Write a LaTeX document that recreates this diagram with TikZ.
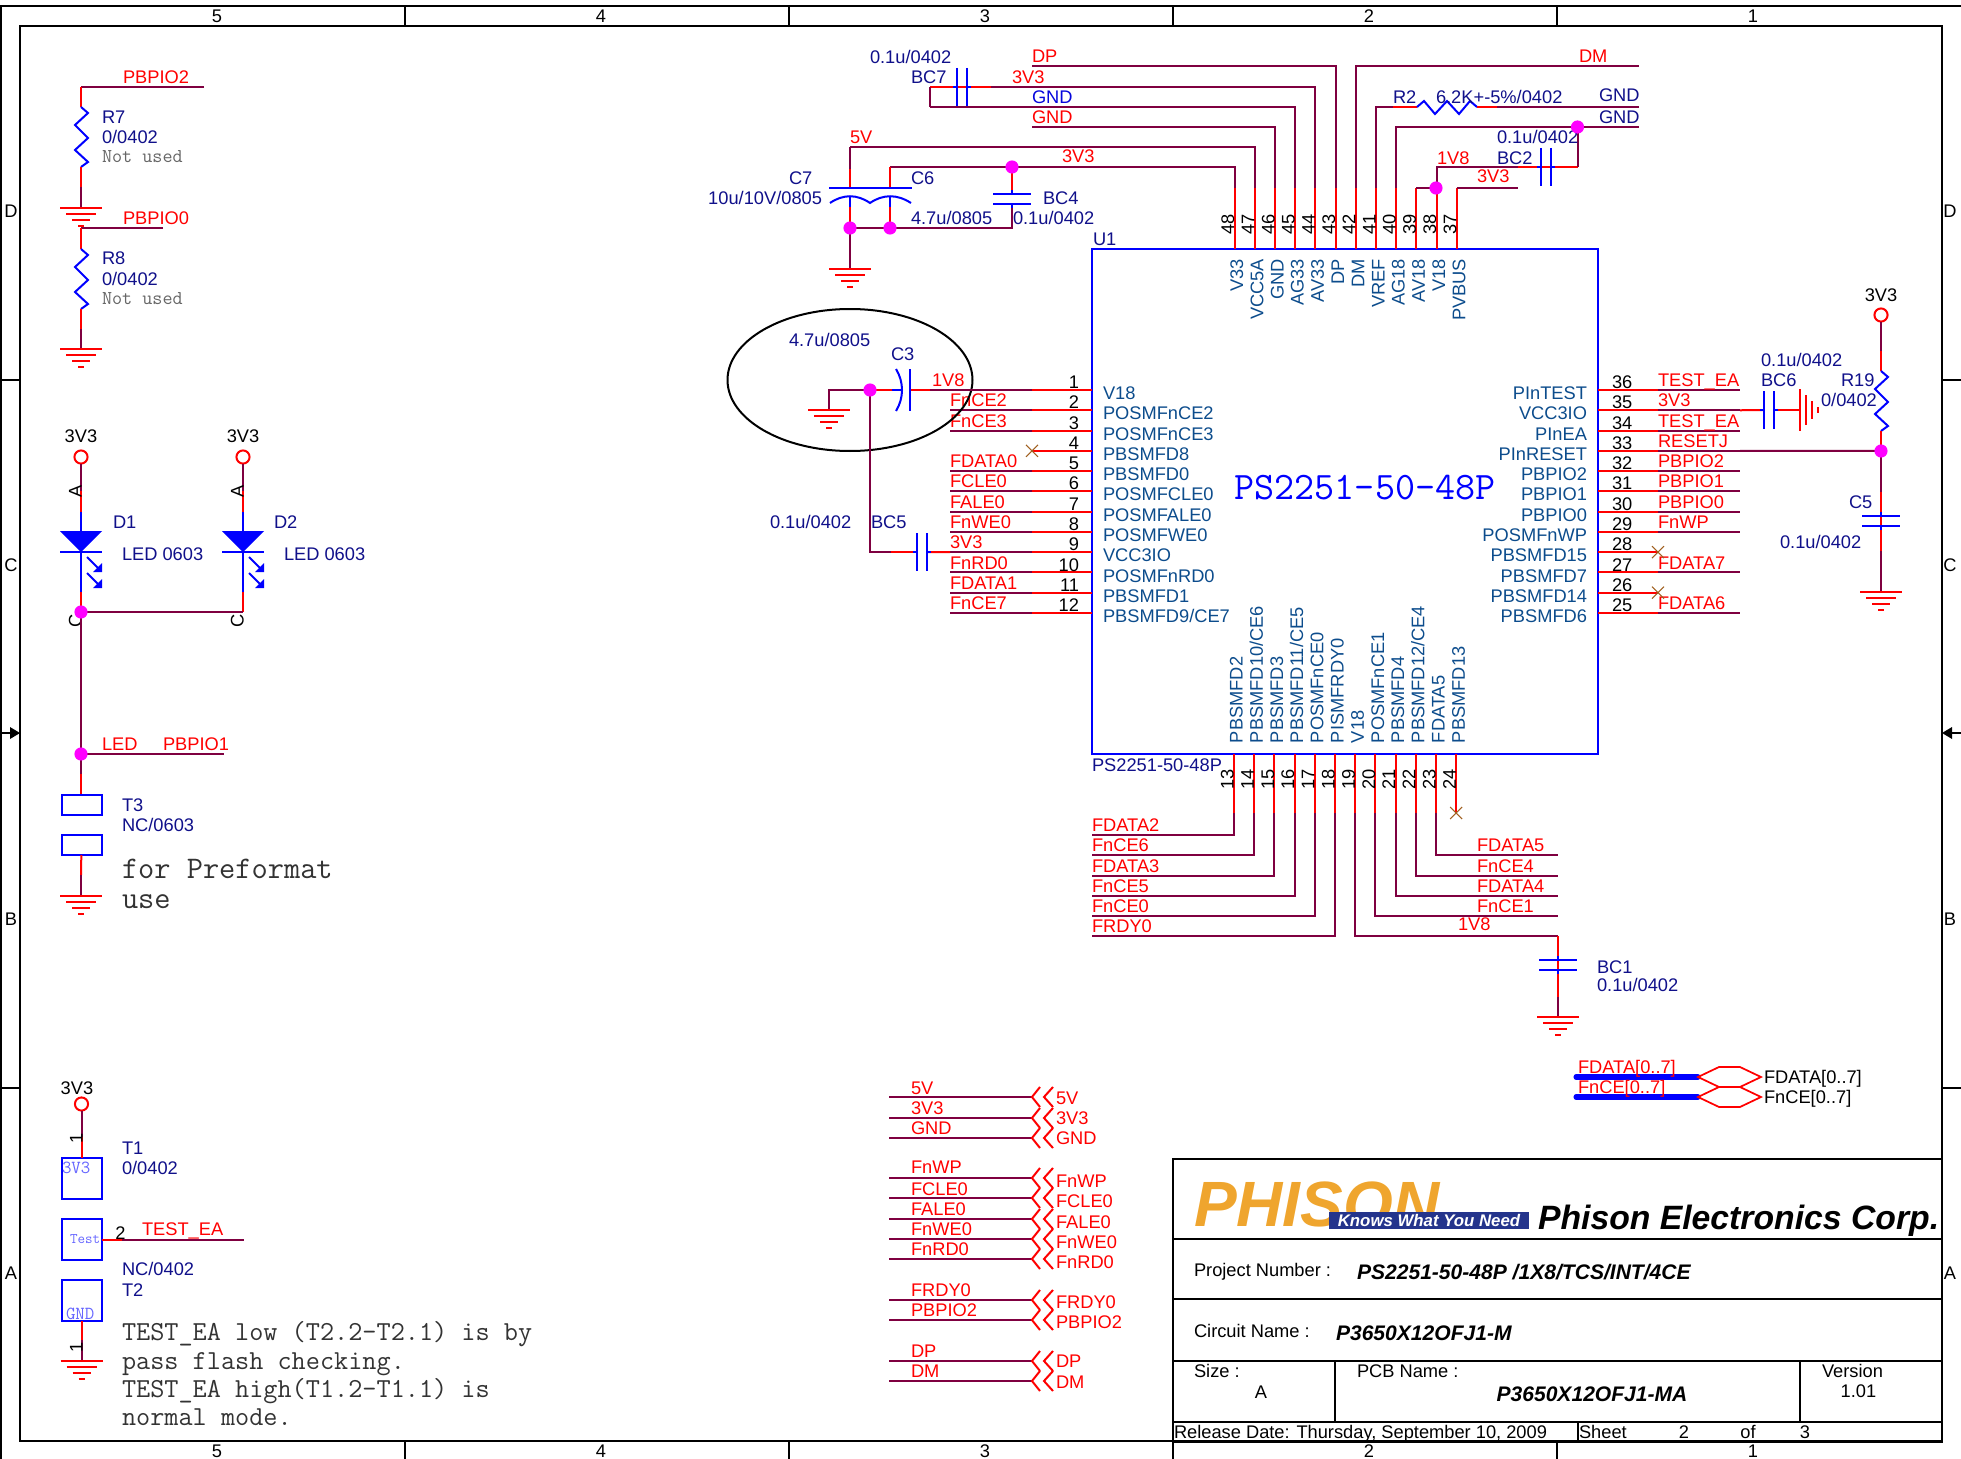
\documentclass[tikz,border=0pt]{standalone}
\usepackage{fontspec}
\setmainfont{Liberation Sans}
\definecolor{wirecol}{HTML}{7F0040}
\definecolor{navylbl}{HTML}{10108A}
\definecolor{pincol}{HTML}{0C4C8C}
\definecolor{nccol}{HTML}{A06020}
\definecolor{logocol}{HTML}{EFA52E}
\definecolor{bandcol}{HTML}{24348C}
\definecolor{dotcol}{HTML}{FF00FF}
\tikzset{
  every node/.style={inner sep=0pt,outer sep=0pt,text height=9.9pt,text depth=0pt,font=\fontsize{13.7}{15}\selectfont},
  every pic/.style={yscale=-1},
  wire/.style={draw=wirecol,line width=1.5pt},
  pinred/.style={draw=red,line width=1.5pt},
  part/.style={draw=blue,line width=1.5pt},
  frameline/.style={draw=black,line width=1.5pt},
  titleline/.style={draw=black,line width=2.2pt},
  netlbl/.style={text=red,anchor=west},
  partlbl/.style={text=navylbl,anchor=west},
  pinname/.style={text=pincol},
  pinnum/.style={text=black},
  plainlbl/.style={text=black,anchor=west},
  dot/.style={circle,fill=dotcol,minimum size=7pt},
  ring/.style={circle,draw=red,line width=1.5pt,fill=white,minimum size=9pt},
  pad/.style={draw=blue,line width=1.5pt,rectangle,minimum width=30pt,minimum height=15pt},
  note/.style={text=black!80,anchor=west,text height=12.6pt,font=\ttfamily\fontsize{20.6}{22}\selectfont},
  bignote/.style={note,text height=14.4pt,font=\ttfamily\fontsize{23.6}{25}\selectfont},
  smallnote/.style={anchor=west,text=black!60,text height=9pt,font=\ttfamily\fontsize{14.7}{16}\selectfont},
  padtxt/.style={anchor=west,text=blue!60,text height=8.4pt,font=\ttfamily\fontsize{13.8}{15}\selectfont},
  titleval/.style={text height=11.4pt,font=\fontsize{15.8}{18}\selectfont\bfseries\itshape},
  gndsym/.pic={\draw[pinred] (-21,0) -- (21,0) (-15,6) -- (15,6) (-9,12) -- (9,12) (-3,18) -- (3,18);},
  resv/.pic={\draw[part] (0,0) -- (7,6) -- (-6,18) -- (7,31) -- (-6,43) -- (7,55) -- (0,60);},
  resh/.pic={\draw[part] (0,0) -- (7,-6) -- (18,7) -- (30,-6) -- (42,7) -- (53,-6) -- (60,0);},
  capv/.pic={\draw[part] (-19,-5) -- (19,-5) (-19,5) -- (19,5) (0,-9) -- (0,-5) (0,5) -- (0,9);},
  caph/.pic={\draw[part] (-5,-19) -- (-5,19) (5,-19) -- (5,19) (-9,0) -- (-5,0) (5,0) -- (9,0);},
  ncmark/.pic={\draw[draw=nccol,line width=.8pt] (-6,-6) -- (6,6) (-6,6) -- (6,-6);},
  chev/.pic={\draw[pinred] (8,-10) -- (0,0) -- (8,10) (21,-10) -- (12,0) -- (21,10);},
  ledsym/.pic={
    \fill[blue] (-21,0) -- (21,0) -- (0,21) -- cycle;
    \draw[part] (0,-19) -- (0,61) (-21,21) -- (21,21);
    \draw[part] (6,26) -- (19,39) (6,42) -- (19,55);
    \fill[blue] (21,41) -- (21,32) -- (12,41) -- cycle (21,57) -- (21,48) -- (12,57) -- cycle;}
}
\begin{document}
\begin{tikzpicture}[x=0.75pt,y=0.75pt,yscale=-1,xscale=1]
\useasboundingbox (0,0) rectangle (1961,1459);

%Sheet frame
\draw[frameline] (1,1459) -- (1,6) -- (1961,6);
\draw[frameline] (20,26) rectangle (1942,1441);
\foreach \px in {405,789,1173,1557} {
  \draw[frameline] (\px,6) -- (\px,26);
  \draw[frameline] (\px,1441) -- (\px,1459);
}
\foreach \py in {380,1088} {
  \draw[frameline] (1,\py) -- (20,\py);
  \draw[frameline] (1942,\py) -- (1961,\py);
}
\draw[frameline] (1,733) -- (12,733);
\draw[frameline] (1961,733) -- (1950,733);
\fill[black] (10,727) -- (20,733) -- (10,739) -- cycle;
\fill[black] (1952,727) -- (1942,733) -- (1952,739) -- cycle;
\foreach \nm/\px in {5/217,4/601,3/985,2/1369,1/1753} {
  \node[pinnum] (colT\nm) at (\px,16) {\nm};
  \node[pinnum] (colB\nm) at (\px,1451) {\nm};
}
\foreach \nm/\py in {D/211,C/565,B/919,A/1273} {
  \node[pinnum] (rowL\nm) at (11,\py) {\nm};
  \node[pinnum] (rowR\nm) at (1950,\py) {\nm};
}

%U1 body
\node[draw=blue,line width=1.5pt,minimum width=379.5pt,minimum height=378.75pt,anchor=north west] (U1) at (1092,249) {};
\node[text=blue,text height=17.6pt,font=\ttfamily\fontsize{29.2}{31}\selectfont] (U1type) at (1365,488) {PS2251-50-48P};
\node[partlbl] (U1ref) at (1093,239) {U1};
\node[partlbl] (U1val) at (1092,765) {PS2251-50-48P};

%Left pins
\foreach \pn/\nm [evaluate=\pn as \py using 390+(\pn-1)*20.27] in {1/V18,2/POSMFnCE2,3/POSMFnCE3,4/PBSMFD8,5/PBSMFD0,6/POSMFCLE0,7/POSMFALE0,8/POSMFWE0,9/VCC3IO,10/POSMFnRD0,11/PBSMFD1,12/PBSMFD9\slash CE7} {
  \coordinate (pL\pn) at (1092,\py);
  \coordinate (wL\pn) at (1032,\py);
  \coordinate (eL\pn) at (950,\py);
  \draw[pinred] (pL\pn) -- (wL\pn);
  \node[pinnum,anchor=east] (numL\pn) at (1079,\py-8) {\pn};
  \node[pinname,anchor=west] (nameL\pn) at (1103,\py+3) {\nm};
}
\foreach \pn/\nm in {2/FnCE2,3/FnCE3,5/FDATA0,6/FCLE0,7/FALE0,8/FnWE0,9/3V3,10/FnRD0,11/FDATA1,12/FnCE7} {
  \draw[wire] (wL\pn) -- (eL\pn);
  \node[netlbl] (netL\pn) at ([yshift=-7.5pt]eL\pn) {\nm};
}
\pic at (wL4) {ncmark};

%Right pins
\foreach \pn/\nm [evaluate=\pn as \py using 390+(36-\pn)*20.27] in {36/PInTEST,35/VCC3IO,34/PInEA,33/PInRESET,32/PBPIO2,31/PBPIO1,30/PBPIO0,29/POSMFnWP,28/PBSMFD15,27/PBSMFD7,26/PBSMFD14,25/PBSMFD6} {
  \coordinate (pR\pn) at (1598,\py);
  \coordinate (wR\pn) at (1658,\py);
  \coordinate (eR\pn) at (1740,\py);
  \draw[pinred] (pR\pn) -- (wR\pn);
  \node[pinnum,anchor=west] (numR\pn) at (1612,\py-8) {\pn};
  \node[pinname,anchor=east] (nameR\pn) at (1587,\py+3) {\nm};
}
\foreach \pn/\nm in {36/TEST\_EA,35/3V3,34/TEST\_EA,33/RESETJ,32/PBPIO2,31/PBPIO1,30/PBPIO0,29/FnWP,27/FDATA7,25/FDATA6} {
  \draw[wire] (wR\pn) -- (eR\pn);
  \node[netlbl] (netR\pn) at ([yshift=-7.5pt]wR\pn) {\nm};
}
\pic at (wR28) {ncmark};
\pic at (wR26) {ncmark};

%Top pins
\foreach \pn/\nm [evaluate=\pn as \px using 1234.5+(48-\pn)*20.2] in {48/V33,47/VCC5A,46/GND,45/AG33,44/AV33,43/DP,42/DM,41/VREF,40/AG18,39/AV18,38/V18,37/PVBUS} {
  \coordinate (pT\pn) at (\px,249);
  \coordinate (wT\pn) at (\px,188);
  \draw[pinred] (pT\pn) -- (wT\pn);
  \node[pinnum,rotate=90] (numT\pn) at (\px-7,224) {\pn};
  \node[pinname,rotate=90,anchor=east] (nameT\pn) at (\px+2,259) {\nm};
}

%Bottom pins
\foreach \pn/\nm [evaluate=\pn as \px using 1234+(\pn-13)*20.2] in {13/PBSMFD2,14/PBSMFD10\slash CE6,15/PBSMFD3,16/PBSMFD11\slash CE5,17/POSMFnCE0,18/PISMFRDY0,19/V18,20/POSMFnCE1,21/PBSMFD4,22/PBSMFD12\slash CE4,23/FDATA5,24/PBSMFD13} {
  \coordinate (pB\pn) at (\px,754);
  \coordinate (wB\pn) at (\px,813);
  \draw[pinred] (pB\pn) -- (wB\pn);
  \node[pinnum,rotate=90] (numB\pn) at (\px-7,779) {\pn};
  \node[pinname,rotate=90,anchor=west] (nameB\pn) at (\px+2,743) {\nm};
}
\pic at (wB24) {ncmark};

%Straight Lines, bottom nets
\foreach \pn/\py/\nm in {13/835/FDATA2,14/855/FnCE6,15/875.5/FDATA3,16/896/FnCE5,17/916/FnCE0,18/936/FRDY0} {
  \coordinate (eB\pn) at (1092,\py);
  \draw[wire] (wB\pn) |- (eB\pn);
  \node[netlbl] (netB\pn) at ([yshift=-7.5pt]eB\pn) {\nm};
}
\foreach \pn/\py/\nm in {23/855/FDATA5,22/875.5/FnCE4,21/896/FDATA4,20/916/FnCE1} {
  \coordinate (eB\pn) at (1558,\py);
  \draw[wire] (wB\pn) |- (eB\pn);
  \node[netlbl] (netB\pn) at (1477,\py-10) {\nm};
}
\coordinate (eB19) at (1558,936);
\draw[wire] (wB19) |- (eB19);
\node[netlbl] (net1V8b) at (1458,924) {1V8};
\coordinate (gBC1) at (1558,1017);
\draw[pinred] (eB19) -- (1558,997);
\draw[wire] (1558,997) -- (gBC1);
\pic at (1558,965) {capv};
\pic at (gBC1) {gndsym};
\node[partlbl] (BC1ref) at (1597,967) {BC1};
\node[partlbl] (BC1val) at (1597,985) {0.1u/0402};

%Straight Lines, top nets
\coordinate (nDP) at (1032,66);
\coordinate (nDM) at (1639,66);
\coordinate (nGNDa) at (1032,127);
\coordinate (nGNDb) at (1639,127);
\coordinate (n5V) at (850,147);
\coordinate (n3V3) at (890,167);
\coordinate (jBC4) at (1012,167);
\coordinate (jBC2) at (1577.5,127);
\coordinate (jV18) at (1436,188);
\draw[wire] (wT43) |- (nDP);
\draw[wire] (wT42) |- (nDM);
\draw[wire] (wT46) |- (nGNDa);
\draw[wire] (wT40) |- (nGNDb);
\draw[wire] (wT47) |- (n5V);
\draw[wire] (wT48) |- (n3V3);

%BC7
\draw[wire] (wT44) |- (991,87);
\draw[pinred] (991,87) -- (930,87);
\draw[wire] (930,87) -- (930,107);
\draw[wire] (wT45) |- (930,107);
\pic at (962,87) {caph};
\node[partlbl] (BC7val) at (870,57) {0.1u/0402};
\node[partlbl] (BC7ref) at (911,77) {BC7};
\node[netlbl] (netDP) at (1032,56) {DP};
\node[netlbl] (net3V3a) at (1012,77) {3V3};
\node[partlbl,text=blue!70!navylbl] (netGNDa) at (1032,97) {GND};
\node[netlbl] (netGNDb) at (1032,117) {GND};
\node[netlbl] (net5V) at (850,137) {5V};
\node[netlbl] (net3V3b) at (1062,156) {3V3};
\node[netlbl] (netDM) at (1579,56) {DM};

%R2
\draw[wire] (wT41) |- (1393,107);
\draw[pinred] (1393,107) -- (1417,107);
\pic at (1417,107) {resh};
\draw[pinred] (1477,107) -- (1497,107);
\draw[wire] (1497,107) -- (1639,107);
\node[partlbl] (R2ref) at (1393,97) {R2};
\node[partlbl] (R2val) at (1436,97) {6.2K+-5\%/0402};
\node[partlbl] (netGNDc) at (1599,95) {GND};
\node[partlbl] (netGNDd) at (1599,117) {GND};

%BC2
\draw[wire] (wT38) |- (1518,167);
\draw[pinred] (1518,167) -- (1577.5,167);
\draw[wire] (1577.5,167) -- (jBC2);
\draw[wire] (wT39) |- (jV18);
\draw[wire] (wT37) |- (1518,188);
\pic at (1546,167) {caph};
\node[partlbl] (BC2val) at (1497,137) {0.1u/0402};
\node[partlbl] (BC2ref) at (1497,158) {BC2};
\node[netlbl] (net1V8a) at (1437,158) {1V8};
\node[netlbl] (net3V3c) at (1477,176) {3V3};

%C7 C6 BC4
\coordinate (jC7) at (850,228);
\coordinate (jC6) at (890,228);
\coordinate (gC7) at (850,269);
\draw[wire] (n5V) -- (850,169);
\draw[pinred] (850,169) -- (850,188);
\draw[pinred] (n3V3) -- (890,188);
\draw[part] (829,188) -- (912,188);
\draw[part] (830,203) .. controls (843,194) and (857,194) .. (870,203) .. controls (883,194) and (897,194) .. (911,203);
\draw[part] (850,197) -- (850,207) (890,197) -- (890,207);
\draw[pinred] (850,207) -- (jC7);
\draw[pinred] (890,207) -- (jC6);
\draw[wire] (jC7) -- (gC7);
\draw[wire] (jC7) -- (1012,228) -- (1012,208);
\draw[pinred] (jBC4) -- (1012,190);
\pic at (1012,199) {capv};
\pic at (gC7) {gndsym};
\node[partlbl] (C7ref) at (789,178) {C7};
\node[partlbl,anchor=east] (C7val) at (822,198) {10u/10V/0805};
\node[partlbl] (C6ref) at (911,178) {C6};
\node[partlbl] (C6val) at (911,218) {4.7u/0805};
\node[partlbl] (BC4ref) at (1043,198) {BC4};
\node[partlbl] (BC4val) at (1013,218) {0.1u/0402};

%C3 and ellipse
\coordinate (jC3) at (870,390);
\coordinate (gC3) at (829,410);
\draw[black,line width=1.5pt] (850,380) ellipse [x radius=122.5,y radius=71];
\draw[wire] (wL1) -- (930,390);
\draw[pinred] (930,390) -- (910,390);
\draw[part] (910,369) -- (910,411);
\draw[part] (896,369) .. controls (904,382) and (904,398) .. (896,411);
\draw[part] (903,390) -- (892,390);
\draw[pinred] (892,390) -- (jC3);
\draw[wire] (jC3) -- (829,390) -- (gC3);
\pic at (gC3) {gndsym};
\node[partlbl] (C3val) at (789,340) {4.7u/0805};
\node[partlbl] (C3ref) at (891,354) {C3};
\node[netlbl] (net1V8c) at (932,380) {1V8};

%BC5
\draw[wire] (jC3) -- (870,552) -- (891,552);
\draw[pinred] (891,552) -- (916,552);
\draw[pinred] (927,552) -- (eL9);
\pic at (921.5,552) {caph};
\node[partlbl] (BC5val) at (770,522) {0.1u/0402};
\node[partlbl] (BC5ref) at (871,522) {BC5};

%BC6 R19 C5
\coordinate (jRst) at (1881,451);
\coordinate (gC5) at (1881,592);
\node[ring] (r3V3a) at (1881,315) {};
\node[pinnum] (lbl3V3a) at (1881,295) {3V3};
\draw[wire] (r3V3a) -- (1881,351);
\draw[pinred] (1881,351) -- (1881,371);
\pic at (1881,371) {resv};
\draw[pinred] (1881,431) -- (jRst);
\draw[wire] (eR33) -- (jRst);
\draw[wire] (jRst) -- (1881,492);
\draw[pinred] (1881,492) -- (1881,551);
\pic at (1881,520.5) {capv};
\draw[wire] (1881,551) -- (gC5);
\pic at (gC5) {gndsym};
\draw[pinred] (eR35) -- (1764,410);
\draw[pinred] (1774,410) -- (1800,410);
\pic at (1769,410) {caph};
\draw[pinred] (1800,389) -- (1800,431) (1806,395) -- (1806,425) (1812,401) -- (1812,419) (1818,407) -- (1818,413);
\node[partlbl] (BC6val) at (1761,360) {0.1u/0402};
\node[partlbl] (BC6ref) at (1761,380) {BC6};
\node[partlbl] (R19ref) at (1841,380) {R19};
\node[partlbl] (R19val) at (1821,400) {0/0402};
\node[partlbl] (C5ref) at (1849,502) {C5};
\node[partlbl] (C5val) at (1780,542) {0.1u/0402};

%R7 R8
\coordinate (nR7) at (204,87);
\coordinate (nR8) at (163,228);
\draw[wire] (nR7) -- (81,87);
\draw[pinred] (81,87) -- (81,107);
\pic at (81,107) {resv};
\draw[pinred] (81,167) -- (81,187);
\draw[wire] (81,187) -- (81,208);
\pic at (81,208) {gndsym};
\draw[wire] (nR8) -- (81,228);
\draw[pinred] (81,228) -- (81,249);
\pic at (81,249) {resv};
\draw[pinred] (81,309) -- (81,329);
\draw[wire] (81,329) -- (81,349);
\pic at (81,349) {gndsym};
\node[netlbl] (netR7) at (123,77) {PBPIO2};
\node[partlbl] (R7ref) at (102,117) {R7};
\node[partlbl] (R7val) at (102,137) {0/0402};
\node[smallnote] (R7nu) at (102,157) {Not used};
\node[netlbl] (netR8) at (123,218) {PBPIO0};
\node[partlbl] (R8ref) at (102,258) {R8};
\node[partlbl] (R8val) at (102,279) {0/0402};
\node[smallnote] (R8nu) at (102,298) {Not used};

%D1 D2
\foreach \nm/\px/\lx/\vx in {1/81/113/122,2/243/274/284} {
  \node[ring] (rD\nm) at (\px,457) {};
  \node[pinnum] (lblD\nm) at (\px,436) {3V3};
  \draw[wire] (rD\nm) -- (\px,491);
  \draw[pinred] (\px,491) -- (\px,512);
  \pic at (\px,531) {ledsym};
  \draw[pinred] (\px,592) -- (\px,612);
  \node[pinnum,rotate=90] (pinA\nm) at (\px-6,491) {A};
  \node[pinnum,rotate=90] (pinC\nm) at (\px-6,621) {C};
  \node[partlbl] (Dref\nm) at (\lx,522) {D\nm};
  \node[partlbl] (Dval\nm) at (\vx,554) {LED 0603};
}
\coordinate (jLed) at (81,612);
\coordinate (jPio) at (81,754);
\draw[wire] (jLed) -- (243,612);
\draw[wire] (jLed) -- (jPio) -- (224,754);
\node[netlbl] (netLED) at (102,744) {LED};
\node[netlbl] (netPIO1) at (163,744) {PBPIO1};

%T3
\draw[wire] (jPio) -- (81,774);
\draw[pinred] (81,774) -- (81,795);
\node[pad] (T3a) at (81.5,805) {};
\node[pad] (T3b) at (81.5,845) {};
\draw[pinred] (T3b) -- (81,875);
\draw[wire] (81,875) -- (81,896);
\pic at (81,896) {gndsym};
\node[partlbl] (T3ref) at (122,804.5) {T3};
\node[partlbl] (T3val) at (122,825) {NC/0603};
\node[bignote] (noteTa) at (122,869) {for Preformat};
\node[bignote] (noteTb) at (122,898.5) {use};

%T1 T2
\node[ring] (rT1) at (81.5,1104) {};
\node[pinnum] (lblT1) at (77,1088) {3V3};
\node[pad,minimum height=30.75pt] (T1box) at (81.5,1178.5) {};
\node[pad,minimum height=30.75pt] (Tbox) at (81.5,1239.5) {};
\node[pad,minimum height=30.75pt] (T2box) at (81.5,1300.5) {};
\draw[wire] (rT1) -- (81.5,1137);
\draw[pinred] (81.5,1137) -- (T1box);
\draw[pinred] (Tbox) -- (122,1239.5);
\draw[wire] (122,1239.5) -- (244,1239.5);
\draw[pinred] (T2box) -- (81.5,1340);
\draw[wire] (81.5,1340) -- (81.5,1361);
\pic at (81.5,1361) {gndsym};
\node[padtxt] (T1txt) at (62,1168) {3V3};
\node[padtxt,text height=6.7pt,font=\ttfamily\fontsize{11}{13}\selectfont] (Ttxt) at (70,1239) {Test};
\node[padtxt] (T2txt) at (66,1314) {GND};
\node[pinnum,rotate=90] (pinT1) at (76,1138) {1};
\node[pinnum,rotate=90] (pinT2) at (76,1347) {1};
\node[pinnum] (pinTe) at (120.5,1233) {2};
\node[netlbl] (netTe) at (142,1229) {TEST\_EA};
\node[partlbl] (T1ref) at (122,1148) {T1};
\node[partlbl] (T1val) at (122,1168) {0/0402};
\node[partlbl] (T2val) at (122,1269) {NC/0402};
\node[partlbl] (T2ref) at (122,1290) {T2};
\node[note] (noteEa) at (122,1332) {TEST\_EA low (T2.2-T2.1) is by};
\node[note] (noteEb) at (122,1361) {pass flash checking.};
\node[note] (noteEc) at (122,1389) {TEST\_EA high(T1.2-T1.1) is};
\node[note] (noteEd) at (122,1417) {normal mode.};

%Off-page connectors
\foreach \nm/\wy/\ly/\ry in {5V/1097/1088/1098,3V3/1118/1108/1118,GND/1138/1128/1138,FnWP/1178/1167/1181,FCLE0/1198/1189/1201,FALE0/1219/1209/1222,FnWE0/1239/1229/1242,FnRD0/1259/1249/1262,FRDY0/1300/1290/1302,PBPIO2/1320/1310/1322,DP/1361/1351/1361,DM/1381/1371/1382} {
  \coordinate (oc\nm) at (1032,\wy);
  \draw[wire] (889,\wy) -- (oc\nm);
  \pic at (oc\nm) {chev};
  \node[netlbl] (ocL\nm) at (911,\ly) {\nm};
  \node[netlbl] (ocR\nm) at (1056,\ry) {\nm};
}

%Bus entries
\foreach \nm/\lb/\wy in {a/FDATA/1077,b/FnCE/1097} {
  \coordinate (bus\nm) at (1698,\wy);
  \draw[blue,line width=3.8pt,line cap=round] (1576,\wy) -- (bus\nm);
  \draw[pinred,line width=1.3pt] (bus\nm) -- (1719,\wy-10) -- (1740,\wy-10) -- (1761,\wy) -- (1740,\wy+10) -- (1719,\wy+10) -- cycle;
  \node[netlbl] (busL\nm) at (1578,\wy-10) {\lb[0..7]};
  \node[plainlbl] (busR\nm) at (1764,\wy) {\lb[0..7]};
}

%Title block
\draw[titleline] (1173,1159) rectangle (1942,1442);
\foreach \py in {1239,1299,1361,1422} {
  \draw[titleline] (1173,\py) -- (1942,\py);
}
\draw[titleline] (1335,1361) -- (1335,1422);
\draw[titleline] (1800,1361) -- (1800,1422);
\draw[titleline] (1578,1422) -- (1578,1442);
\node[text=logocol,anchor=west,text height=34.5pt,font=\fontsize{48}{50}\selectfont\bfseries\itshape] (logoTxt) at (1194,1203) {PHISON};
\node[fill=bandcol,text=white,text height=9.1pt,minimum width=150pt,minimum height=12.75pt,font=\fontsize{12.6}{14}\selectfont\bfseries\itshape] (logoBand) at (1429,1220.5) {Knows What You Need};
\node[plainlbl,text height=18.2pt,font=\fontsize{25.3}{28}\selectfont\bfseries\itshape] (corpName) at (1538,1217) {Phison Electronics Corp.};
\node[plainlbl] (prjLbl) at (1194,1270) {Project Number :};
\node[plainlbl,titleval] (prjVal) at (1357,1272) {PS2251-50-48P /1X8/TCS/INT/4CE};
\node[plainlbl] (cctLbl) at (1194,1331) {Circuit Name :};
\node[plainlbl,titleval] (cctVal) at (1336,1333) {P3650X12OFJ1-M};
\node[plainlbl] (sizeLbl) at (1194,1371) {Size :};
\node[pinnum] (sizeVal) at (1261,1392) {A};
\node[plainlbl] (pcbLbl) at (1357,1371) {PCB Name :};
\node[pinnum,titleval] (pcbVal) at (1592,1394) {P3650X12OFJ1-MA};
\node[plainlbl] (verLbl) at (1822,1371) {Version};
\node[pinnum] (verVal) at (1858.5,1391) {1.01};
\node[plainlbl] (relLbl) at (1174,1432) {Release Date: Thursday, September 10, 2009};
\node[plainlbl] (shtLbl) at (1579,1432) {Sheet};
\node[pinnum] (shtNum) at (1684,1432) {2};
\node[pinnum] (shtOf) at (1748,1432) {of};
\node[pinnum] (shtTot) at (1805,1432) {3};

%Junctions
\foreach \nm in {jBC4,jBC2,jV18,jC7,jC6,jC3,jRst,jLed,jPio} {
  \node[dot] (d\nm) at (\nm) {};
}
\end{tikzpicture}
\end{document}
